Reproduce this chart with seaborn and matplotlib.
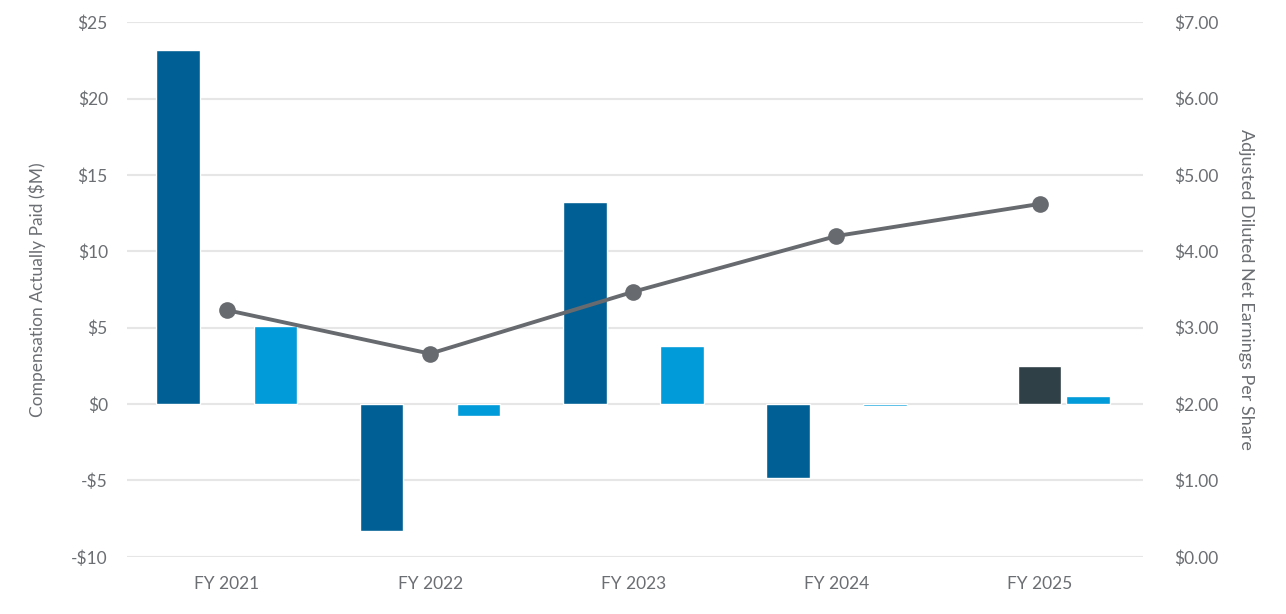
import pandas as pd
import matplotlib
matplotlib.use('Agg')
import matplotlib.pyplot as plt
import seaborn as sns

# Dados
anos = ['FY 2021', 'FY 2022', 'FY 2023', 'FY 2024', 'FY 2025']
cap_peo1 = [23.2, -8.3, 13.2, -4.85, None]
cap_peo2 = [None, None, None, None, 2.5]
cap_neos = [5.1, -0.75, 3.8, -0.1, 0.5]
eps_ajustado = [3.23, 2.66, 3.47, 4.20, 4.62]

grupos = ['PEO 1', 'PEO 2', 'Non-PEO NEOs']
cores = {'PEO 1': '#005f94', 'PEO 2': '#2f4047', 'Non-PEO NEOs': '#009bd8'}

linhas = []
for grupo, valores in zip(grupos, [cap_peo1, cap_peo2, cap_neos]):
    for ano, v in zip(anos, valores):
        linhas.append({'Ano': ano, 'Grupo': grupo, 'CAP': v})
df = pd.DataFrame(linhas)

sns.set_style('white')
plt.rcParams['font.family'] = ['Lato', 'DejaVu Sans']
cor_texto = '#6b6e72'

fig = plt.figure(figsize=(12.86, 6.14), dpi=100)
ax = fig.add_axes([0.099, 0.093, 0.79, 0.871])

sns.barplot(data=df, x='Ano', y='CAP', hue='Grupo', order=anos, hue_order=grupos,
            palette=cores, width=0.717, gap=0.1, ax=ax, legend=False, saturation=1,
            errorbar=None)

ax.set_ylim(-10, 25)
ax.set_yticks(range(-10, 30, 5))
ax.set_yticklabels([('-$' if v < 0 else '$') + str(abs(v)) for v in range(-10, 30, 5)])
ax.set_xlim(-0.49, 4.51)
ax.set_xlabel('')
ax.set_ylabel('Compensation Actually Paid ($M)', fontsize=12.5, color=cor_texto, labelpad=18)
ax.yaxis.grid(True, color='#e6e6e6', linewidth=1.5)
ax.set_axisbelow(True)
ax.tick_params(axis='both', length=0, labelsize=12.5, colors=cor_texto)
ax.tick_params(axis='x', pad=14)
ax.tick_params(axis='y', pad=14)
for s in ax.spines.values():
    s.set_visible(False)

# Eixo secundario - EPS ajustado
ax2 = ax.twinx()
sns.lineplot(x=list(range(len(anos))), y=eps_ajustado, ax=ax2, color='#676a6e',
             linewidth=2.8, marker='o', markersize=12, markeredgewidth=0)
ax2.set_ylim(0, 7)
ax2.set_yticks(range(0, 8))
ax2.set_yticklabels(['$%.2f' % v for v in range(0, 8)])
ax2.set_ylabel('Adjusted Diluted Net Earnings Per Share', fontsize=13, color=cor_texto,
               rotation=270, labelpad=26)
ax2.tick_params(axis='y', length=0, labelsize=12.5, colors=cor_texto, pad=22)
ax2.grid(False)
for s in ax2.spines.values():
    s.set_visible(False)

fig.savefig('out.png', dpi=100)
